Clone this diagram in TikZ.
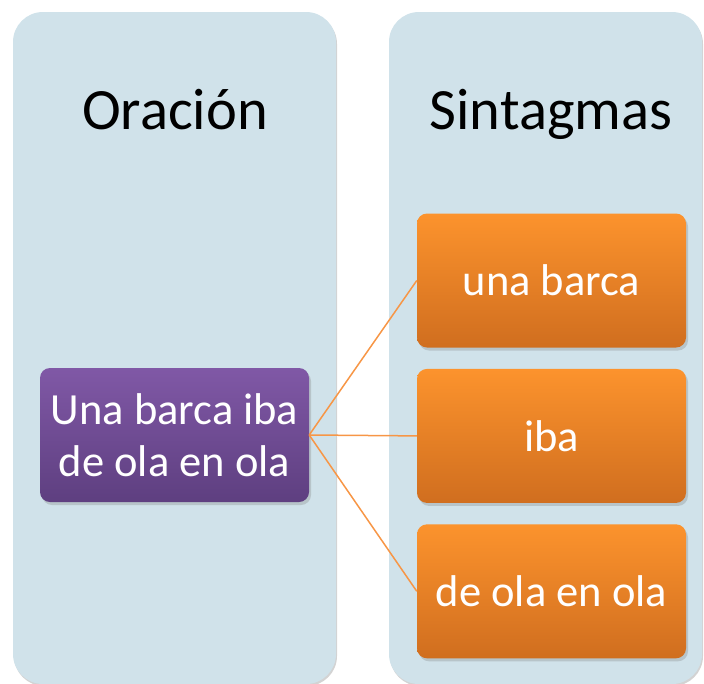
\documentclass[tikz,border=0pt]{standalone}
\usepackage{fontspec}
\setmainfont{Carlito}
\usetikzlibrary{positioning,shadows}
\definecolor{panelblue}{RGB}{208,226,234}
\definecolor{orangetop}{RGB}{252,147,45}
\definecolor{orangebot}{RGB}{208,110,31}
\definecolor{purpletop}{RGB}{128,88,166}
\definecolor{purplebot}{RGB}{94,63,128}
\definecolor{linkorange}{RGB}{247,150,70}
\tikzset{panel/.style={
    fill=panelblue,
    rounded corners=30pt,
    drop shadow={shadow xshift=1pt, shadow yshift=-2pt, opacity=0.35}
  },
  heading/.style={
    anchor=base,
    font=\fontsize{58.5}{62}\selectfont
  },
  item/.style={
    rounded corners=10pt,
    minimum width=269pt,
    minimum height=134pt,
    inner sep=0pt,
    align=center,
    text=white,
    font=\fontsize{44.5}{52}\selectfont,
    drop shadow={shadow xshift=2pt, shadow yshift=-3pt, opacity=0.3}
  },
  sentence/.style={item, top color=purpletop, bottom color=purplebot},
  phrase/.style={item, top color=orangetop, bottom color=orangebot},
  link/.style={draw=linkorange, line width=1.5pt}
}

\begin{document}
\begin{tikzpicture}[x=1pt,y=-1pt]
    \useasboundingbox (0,0) rectangle (704,683);
    % columns
    \path[panel] (13,12) rectangle (336,684);
    \path[panel] (389,12) rectangle (702,684);
    \node[heading] (oracion) at (175,129) {Oración};
    \node[heading] (sintagmas) at (551,129) {Sintagmas};
    % boxes
    \node[sentence] (frase) at (174.5,435) {Una barca iba\\de ola en ola};
    \node[phrase] (barca) at (551.5,280.5) {una barca};
    \node[phrase, below=21pt of barca] (iba) {iba};
    \node[phrase, below=21pt of iba] (ola) {de ola en ola};
    \draw[link] (frase.east) -- (barca.west);
    \draw[link] (frase.east) -- (iba.west);
    \draw[link] (frase.east) -- (ola.west);
\end{tikzpicture}
\end{document}
